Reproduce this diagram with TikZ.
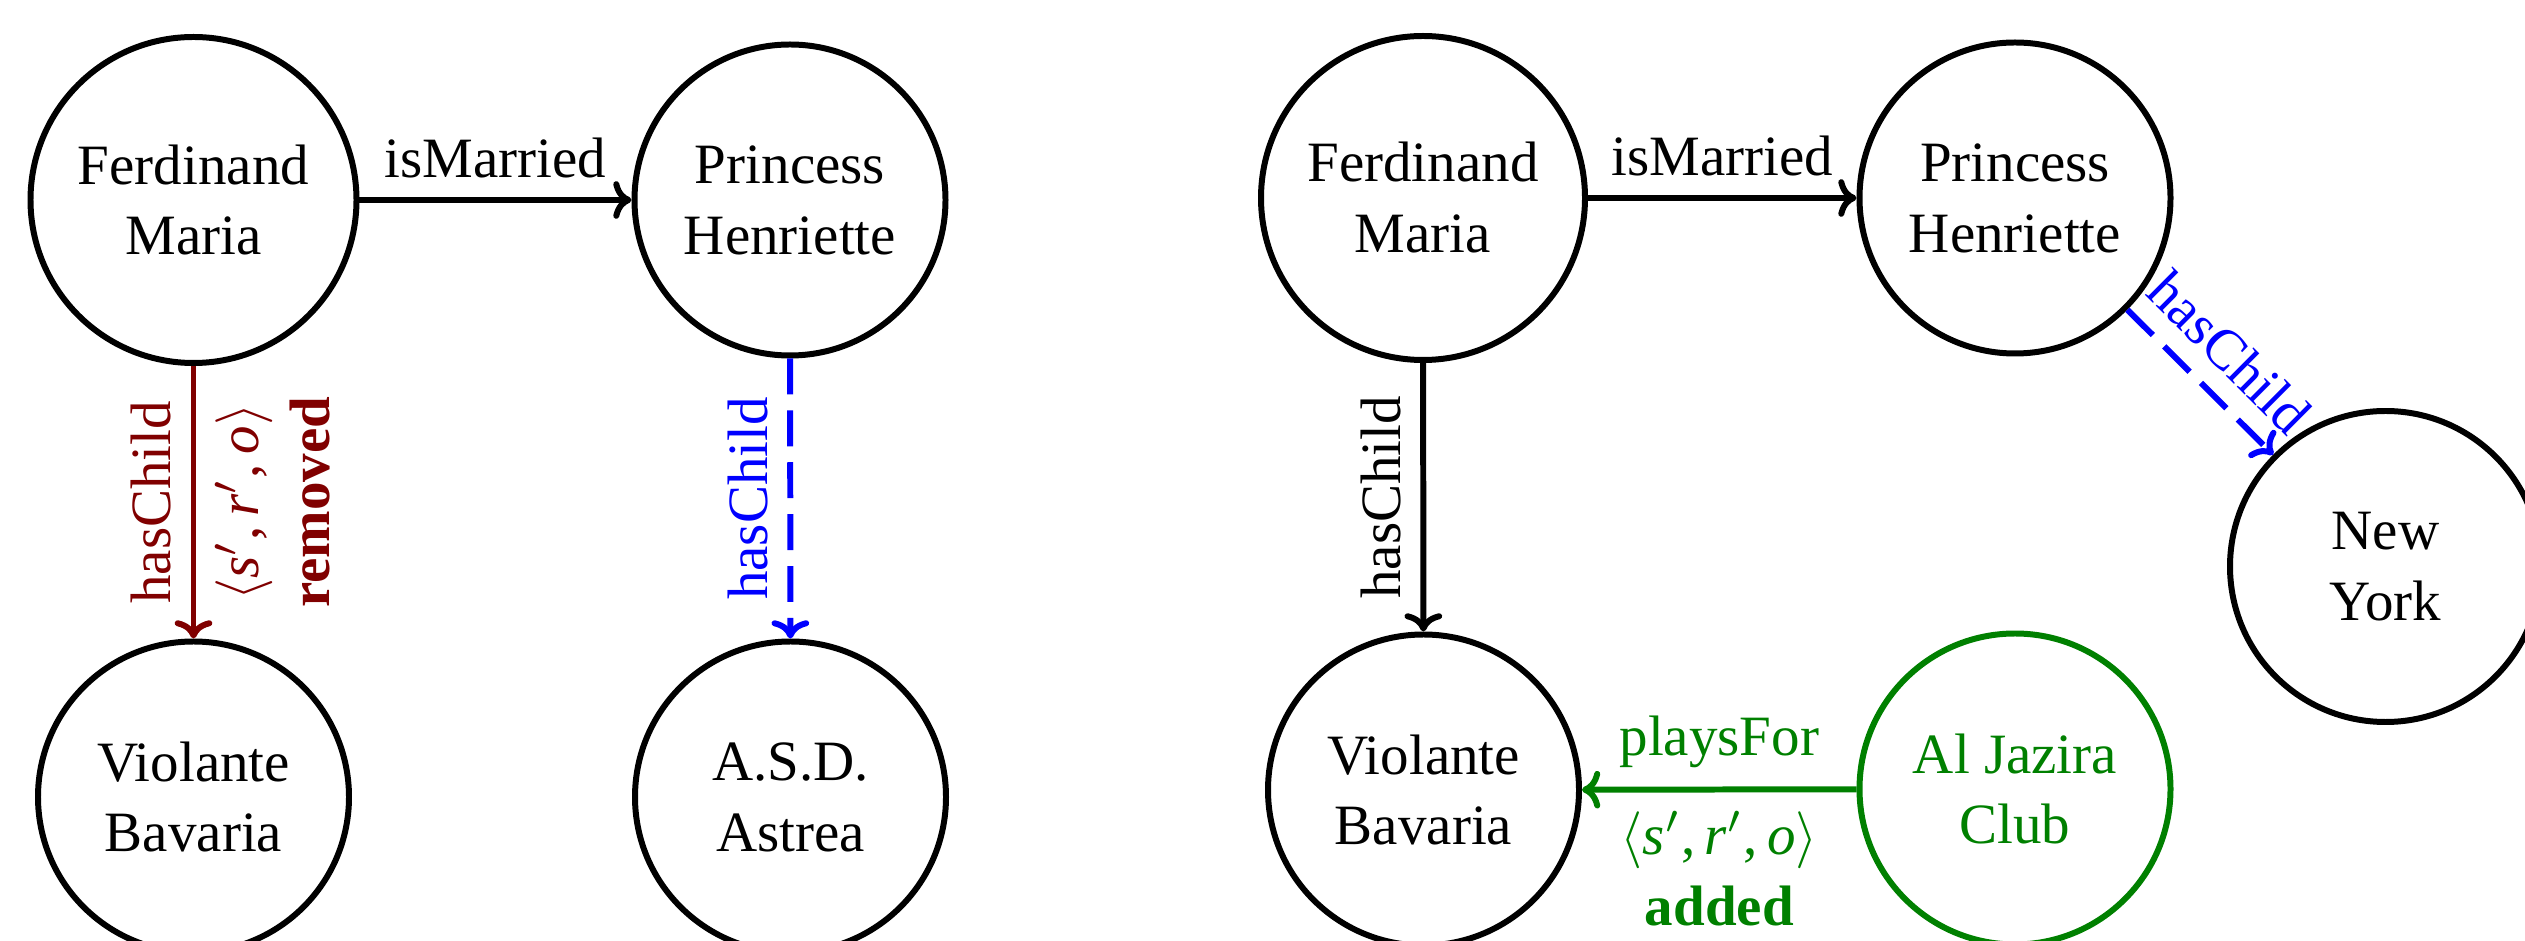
\documentclass[tikz,border=0pt]{standalone}
\usepackage{fontspec}
\setmainfont{Liberation Serif}
\usetikzlibrary{arrows.meta}
\def\pxu{0.1754pt}
\newcommand{\triple}{$\langle$\textit{s}$'$,\,\textit{r}$'$,\,\textit{o}$\rangle$}
\begin{document}
\begin{tikzpicture}[x=\pxu, y=\pxu,
  font=\fontsize{10pt}{12.45pt}\selectfont,
  entity/.style={circle, draw, line width=1.05pt, minimum size=311*\pxu, inner sep=2pt, align=center},
  rel/.style={line width=1.05pt, -{Computer Modern Rightarrow[length=3.2pt,width=6.6pt]}},
  removedrel/.style={rel, color=red!50!black},
  inferredrel/.style={rel, color=blue, dash pattern=on 6.3pt off 2.8pt},
  addedrel/.style={rel, color=green!50!black},
  uplabel/.style={rotate=90, anchor=south},
  downlabel/.style={rotate=90, anchor=north, align=center}
]
\useasboundingbox (0,0) rectangle (2525,940);
\clip (0,0) rectangle (2525,940);

% left graph: a removed fact
\node[entity, minimum size=326*\pxu] (f1) at (193.5,740) {Ferdinand\\Maria};
\node[entity] (p1) at (790,740) {Princess\\Henriette};
\node[entity] (v1) at (193.5,143) {Violante\\Bavaria};
\node[entity] (a1) at (790.5,143) {A.S.D.\\Astrea};

\draw[rel] (f1) -- node[above] {isMarried} (p1);
\draw[removedrel] (f1) -- node[uplabel] {hasChild}
  node[downlabel] {\triple\\\textbf{removed}} (v1);
\draw[inferredrel] (p1) -- node[uplabel] {hasChild} (a1);

% right graph: an added fact
\node[entity, minimum size=324*\pxu] (f2) at (1423,742) {Ferdinand\\Maria};
\node[entity] (p2) at (2015,742) {Princess\\Henriette};
\node[entity] (ny) at (2385.5,373.5) {New\\York};
\node[entity] (v2) at (1423.5,150) {Violante\\Bavaria};
\node[entity, draw=green!50!black, text=green!50!black] (aj) at (2015,151) {Al Jazira\\Club};

\draw[rel] (f2) -- node[above] {isMarried} (p2);
\draw[rel] (f2) -- node[uplabel] {hasChild} (v2);
\draw[inferredrel] (p2) -- node[sloped, above] {hasChild} (ny);
\draw[addedrel] (aj) -- node[above] {playsFor}
  node[below, align=center] {\triple\\\textbf{added}} (v2);
\end{tikzpicture}
\end{document}
